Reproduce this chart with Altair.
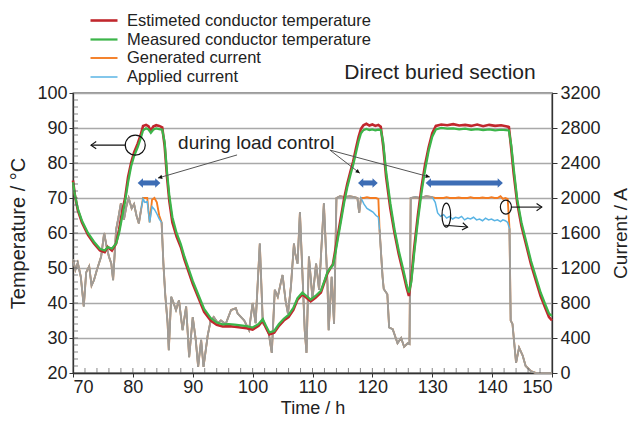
import altair as alt
import pandas as pd

SERIES = ["Estimeted conductor temperature", "Measured conductor temperature",
          "Generated current", "Applied current"]
COLORS = ["#c1272d", "#3cb54a", "#f47b20", "#5ab4e4"]

# ---------------- temperature data (h, °C) ----------------
temp_time = [70.0, 70.3, 70.8, 71.5, 72.5, 73.5, 74.5, 75.3, 75.8, 76.5, 77.2, 77.7, 78.2, 78.7,
             79.2, 79.7, 80.2, 80.8, 81.3, 81.7, 82.2, 82.6, 83.0, 83.4, 83.9, 84.4, 84.9, 85.3,
             85.7, 86.1, 86.6, 87.3, 88.0, 88.6, 89.2, 90.0, 90.9, 91.9, 93.0, 94.0, 95.0, 96.0,
             97.0, 98.0, 99.0, 100.0, 101.0, 101.7, 102.2, 102.8, 103.6, 104.4, 105.2, 106.0,
             106.8, 107.5, 108.3, 109.0, 109.7, 110.5, 111.4, 112.0, 112.5, 113.0, 113.4, 113.8,
             114.2, 114.8, 115.3, 115.8, 116.4, 116.8, 117.3, 117.7, 118.1, 118.5, 119.0, 119.5,
             120.0, 120.5, 121.0, 121.4, 121.8, 122.3, 123.0, 123.7, 124.4, 125.1, 125.7, 126.1,
             126.5, 127.0, 127.6, 128.2, 128.8, 129.4, 130.0, 130.6, 131.5, 132.5, 133.5, 134.5,
             135.5, 136.5, 137.5, 138.5, 139.5, 140.5, 141.5, 142.3, 142.8, 143.2, 143.6, 144.2,
             144.9, 145.7, 146.5, 147.3, 148.1, 148.9, 149.5, 150.0]
est_temp = [75.0, 71.0, 66.5, 63.0, 59.5, 57.0, 55.0, 54.5, 56.0, 55.0, 57.0, 61.0, 66.0, 70.0,
            76.0, 80.0, 83.0, 85.5, 88.0, 90.6, 90.9, 90.5, 89.2, 90.4, 90.8, 90.6, 90.2, 85.0,
            76.0, 69.0, 63.0, 59.0, 56.0, 52.5, 49.5, 45.5, 41.7, 37.5, 35.0, 33.8, 33.3, 33.4,
            33.2, 33.0, 32.8, 32.4, 33.5, 35.0, 33.0, 31.0, 31.5, 33.5, 35.0, 36.0,
            38.0, 41.0, 42.5, 41.5, 40.5, 41.5, 43.0, 46.0, 48.5, 50.0, 51.0, 55.0,
            59.0, 65.0, 70.0, 74.0, 78.0, 80.5, 84.5, 87.5, 89.8, 90.8, 91.2, 90.7,
            91.0, 90.6, 90.9, 90.4, 85.0, 76.0, 67.0, 60.0, 54.0, 49.0, 44.5, 42.0,
            47.0, 56.0, 65.0, 73.0, 79.5, 84.5, 88.5, 90.6, 91.0, 90.8, 91.1, 90.7,
            90.9, 90.6, 91.0, 90.5, 90.9, 90.6, 90.8, 90.5, 90.3, 84.0, 77.0, 68.5,
            62.0, 56.5, 51.0, 46.5, 42.0, 38.5, 36.0, 35.0]
meas_temp = [74.5, 71.0, 67.0, 63.5, 60.0, 57.5, 55.5, 55.0, 56.0, 55.5, 57.0, 60.0, 64.5, 69.0,
             74.5, 79.0, 82.0, 84.5, 87.0, 89.3, 89.9, 89.6, 88.6, 89.5, 89.9, 89.7, 89.5, 86.0,
             77.5, 70.5, 64.5, 60.0, 56.8, 53.3, 50.3, 46.3, 42.5, 38.3, 35.7, 34.4, 33.9, 34.0,
             33.8, 33.6, 33.4, 33.0, 34.0, 35.4, 33.6, 31.6, 32.0, 34.0, 35.5, 36.6,
             38.6, 41.4, 43.0, 42.0, 41.0, 42.0, 43.5, 46.3, 48.8, 50.0, 50.8, 54.0,
             58.0, 63.8, 68.8, 73.0, 77.0, 79.5, 83.2, 86.2, 88.5, 89.4, 89.7, 89.4,
             89.6, 89.3, 89.5, 89.4, 86.0, 77.5, 68.5, 61.0, 55.0, 50.0, 45.5, 43.0,
             46.0, 54.5, 63.5, 71.5, 78.0, 83.5, 87.5, 89.6, 90.0, 89.8, 89.9, 89.6,
             89.8, 89.5, 89.7, 89.4, 89.6, 89.3, 89.5, 89.4, 89.3, 85.0, 78.5, 69.5,
             63.0, 57.5, 52.0, 47.5, 43.0, 39.5, 37.0, 36.3]

# ---------------- current data (h, A) ----------------
cur_time = [70.0, 70.4, 70.8, 71.3, 71.8, 72.2, 72.7, 73.1, 73.5, 74.0, 74.7, 75.2, 75.6, 76.0,
            76.4, 76.7, 77.2, 77.6, 78.0, 78.5, 78.9, 79.3, 79.8, 80.2, 80.6, 81.0, 81.4, 81.7,
            82.0, 82.4, 82.8, 83.2, 83.6, 84.0, 84.4, 84.8, 85.1, 85.4, 85.8, 86.0, 86.4, 86.7,
            87.2, 87.7, 88.3, 88.9, 89.4, 90.0, 90.5, 90.9, 91.4, 91.8, 92.5, 93.0, 93.5, 94.2,
            94.7, 95.5, 96.4, 97.2, 97.5, 98.6, 99.4, 100.0, 100.5, 101.2, 101.7, 102.2, 102.7,
            103.2, 103.7, 104.2, 104.7, 105.0, 105.5, 105.9, 106.4, 106.9, 107.1, 107.5, 107.9,
            108.4, 108.7, 109.0, 109.4, 110.0, 110.6, 111.1, 111.9, 112.5, 112.7, 113.2, 113.6,
            114.0, 114.6, 115.4, 116.2, 117.0, 117.5, 117.8, 118.1, 118.6, 119.1, 119.6, 120.1,
            120.6, 121.0, 121.2, 121.7, 121.9, 122.5, 122.8, 123.4, 124.2, 124.8, 125.3, 125.9,
            126.2, 126.4, 127.2, 128.0, 129.0, 130.0, 130.5, 130.9, 131.4, 131.9, 132.4, 132.9,
            133.4, 133.9, 134.4, 134.9, 135.4, 135.9, 136.4, 136.9, 137.4, 137.9, 138.4, 138.9,
            139.4, 139.9, 140.4, 140.9, 141.4, 141.8, 142.2, 142.6, 142.9, 143.1, 143.4, 144.0,
            144.5, 145.1, 145.6, 146.5, 147.3, 150.0]
gen_cur = [1300, 1180, 1260, 1100, 760, 1150, 1220, 1000, 1060, 1180, 1330, 1600, 1450, 1330,
           1250, 1060, 1640, 1780, 1940, 1750, 1900, 2000, 1880, 1930, 1800, 1710, 1880, 2000,
           2000, 2000, 1720, 1980, 2000, 1950, 1800, 1720, 1250, 900, 570, 260, 870, 820,
           720, 830, 490, 760, 180, 640, 380, 70, 380, 70, 430, 600, 640, 570,
           600, 560, 720, 740, 680, 600, 490, 800, 570, 1480, 570, 530, 450,
           230, 950, 870, 1030, 1120, 830, 680, 990, 1480, 1370, 1250, 1840,
           1000, 490, 230, 1330, 850, 1250, 950, 1940, 1020, 490, 1100, 560,
           2000, 2020, 2010, 2020, 2010, 2000, 1830, 2000, 2000, 2010, 2000, 2000,
           2000, 1990, 1640, 1100, 960, 900, 520, 500, 340, 400, 300, 340,
           330, 2000, 2010, 2000, 2020, 2010, 2000, 2000, 2000, 2000, 2010, 2000,
           2000, 2000, 2005, 2000, 2000, 2000, 2010, 2000, 2000, 2000, 2005, 2000,
           2000, 2010, 2000, 2000, 2020, 1990, 2000, 1990, 1650, 600, 560, 115,
           290, 200, 80, 20, 0, 0]
app_cur = [1300, 1180, 1260, 1100, 760, 1150, 1220, 1000, 1060, 1180, 1330, 1600, 1450, 1330,
           1250, 1060, 1640, 1780, 1940, 1750, 1900, 2000, 1880, 1930, 1800, 1710, 1880, 1990,
           1950, 1960, 1720, 1900, 1870, 1820, 1760, 1720, 1250, 900, 570, 260, 870, 820,
           720, 830, 490, 760, 180, 640, 380, 70, 380, 70, 430, 600, 640, 570,
           600, 560, 720, 740, 680, 600, 490, 800, 570, 1480, 570, 530, 450,
           230, 950, 870, 1030, 1120, 830, 680, 990, 1480, 1370, 1250, 1840,
           1000, 490, 230, 1330, 850, 1250, 950, 1940, 1020, 490, 1100, 560,
           2000, 2020, 2010, 2020, 2010, 2000, 1830, 2000, 1930, 1880, 1860, 1840,
           1800, 1780, 1640, 1100, 960, 900, 520, 500, 340, 400, 300, 340,
           330, 2000, 2010, 2000, 2020, 2010, 1950, 1830, 1790, 1810, 1770, 1790,
           1760, 1780, 1770, 1790, 1750, 1770, 1760, 1780, 1750, 1760, 1740, 1770,
           1750, 1760, 1740, 1750, 1730, 1750, 1740, 1720, 1650, 600, 560, 115,
           290, 200, 80, 20, 0, 0]

x_ticks = list(range(70, 151, 10))
temp_ticks = list(range(20, 101, 10))
cur_ticks = list(range(0, 3201, 400))
x_minor = list(range(72, 150, 2))
temp_minor = list(range(22, 100, 2))

# ---------------- annotations (in data coordinates) ----------------
LOAD_TEXT = "during load control"
load_text_h, load_text_t = 100.6, 85.7
ptr_h1 = [97.4, 112.9, 112.9]
ptr_t1 = [82.3, 83.7, 83.7]
ptr_h2 = [84.2, 117.9, 129.6]
ptr_t2 = [75.7, 77.1, 76.0]
ptr_ang = [163.8, 37.5, 15.1]
dbl_h1 = [80.8, 117.6, 128.9]
dbl_h2 = [84.6, 120.9, 141.8]
dbl_t = 74.3

# ---------------- frames ----------------
temp_df = pd.concat([
    pd.DataFrame({"time": temp_time, "value": est_temp, "series": SERIES[0]}),
    pd.DataFrame({"time": temp_time, "value": meas_temp, "series": SERIES[1]}),
])
cur_df = pd.concat([
    pd.DataFrame({"time": cur_time, "value": gen_cur, "series": SERIES[2]}),
    pd.DataFrame({"time": cur_time, "value": app_cur, "series": SERIES[3]}),
])
cw = pd.DataFrame({"time": cur_time, "gen": gen_cur, "app": app_cur})
cw["eq"] = cw["gen"] == cw["app"]
cw["seg"] = (cw["eq"] != cw["eq"].shift()).cumsum()
grey_df = cw[cw["eq"]].rename(columns={"app": "value"})[["time", "value", "seg"]]

FONT = "Liberation Sans"
xscale = alt.Scale(domain=[70, 150], nice=False, zero=False)
tscale = alt.Scale(domain=[20, 100], nice=False, zero=False)
cscale = alt.Scale(domain=[0, 3200], nice=False, zero=True)

x_axis = alt.Axis(values=x_ticks, title="Time / h", grid=False, tickSize=4, labelPadding=1,
                  titlePadding=3, titleFontSize=18, format="d")
t_axis = alt.Axis(orient="left", values=temp_ticks, title="Temperature / °C", grid=True,
                  gridColor="#a9a9a9", gridWidth=1.5, tickSize=4, labelPadding=2,
                  titlePadding=8, format="d")
c_axis = alt.Axis(orient="right", values=cur_ticks, title="Current / A", grid=False,
                  tickSize=5, labelPadding=3, titlePadding=30, titleFontSize=19,
                  titleAngle=270, format="d")

legend = alt.Legend(title=None, orient="none", legendX=20.5, legendY=-83,
                    symbolType="M-1.5,0L1.5,0", symbolSize=324, labelFontSize=16.5,
                    labelFont=FONT, labelColor="#222", rowPadding=0, labelOffset=12.5,
                    padding=0, labelLimit=400)
color = alt.Color("series:N", scale=alt.Scale(domain=SERIES, range=COLORS), legend=legend)
swidth = alt.StrokeWidth("series:N", scale=alt.Scale(domain=SERIES, range=[2.6, 1.5, 1.8, 1.5]),
                         legend=legend)


def X(field="time"):
    return alt.X(f"{field}:Q", scale=xscale, axis=x_axis)


def TY(field="value"):
    return alt.Y(f"{field}:Q", scale=tscale, axis=t_axis)


# current group
gen_line = alt.Chart(cur_df[cur_df.series == SERIES[2]]).mark_line().encode(
    x=X(), y=alt.Y("value:Q", scale=cscale, axis=c_axis), color=color, strokeWidth=swidth)
app_line = alt.Chart(cur_df[cur_df.series == SERIES[3]]).mark_line().encode(
    x=X(), y=alt.Y("value:Q", scale=cscale, axis=c_axis), color=color, strokeWidth=swidth)
grey_line = alt.Chart(grey_df).mark_line(color="#a39b94", strokeWidth=1.8).encode(
    x=X(), y=alt.Y("value:Q", scale=cscale, axis=c_axis), detail="seg:N")
cur_group = alt.layer(gen_line, app_line, grey_line)

# temperature group
est_line = alt.Chart(temp_df[temp_df.series == SERIES[0]]).mark_line().encode(
    x=X(), y=TY(), color=color, strokeWidth=swidth)
meas_line = alt.Chart(temp_df[temp_df.series == SERIES[1]]).mark_line().encode(
    x=X(), y=TY(), color=color, strokeWidth=swidth)

ytick = alt.Chart(pd.DataFrame({"v": temp_minor})).mark_tick(
    orient="horizontal", size=5, thickness=1, color="#555").encode(y=TY("v"), x=alt.value(2.5))
xtick = alt.Chart(pd.DataFrame({"v": x_minor})).mark_tick(
    orient="vertical", size=5, thickness=1, color="#555").encode(x=X("v"), y=alt.value(277.5))

ptr_df = pd.DataFrame({"h1": ptr_h1, "t1": ptr_t1, "h2": ptr_h2, "t2": ptr_t2, "ang": ptr_ang})
ptr_lines = alt.Chart(ptr_df).mark_rule(color="#555", strokeWidth=1).encode(
    x=X("h1"), y=TY("t1"), x2="h2:Q", y2="t2:Q")
ptr_heads = alt.Chart(ptr_df).mark_point(
    shape="M0,0 L-1,-0.5 L-1,0.5 Z", filled=True, color="#111", size=70, opacity=1).encode(
    x=X("h2"), y=TY("t2"), angle=alt.Angle("ang:Q", scale=None))

dbl_df = pd.DataFrame({"h1": dbl_h1, "h2": dbl_h2, "t": dbl_t})
dbl_df["s1"] = dbl_df["h1"] + 0.6
dbl_df["s2"] = dbl_df["h2"] - 0.6
dbl_shaft = alt.Chart(dbl_df).mark_rule(color="#3d6db5", strokeWidth=5).encode(
    x=X("s1"), x2="s2:Q", y=TY("t"))
heads_df = pd.DataFrame({"h": dbl_h1 + dbl_h2, "t": dbl_t,
                         "ang": [180] * len(dbl_h1) + [0] * len(dbl_h2)})
dbl_heads = alt.Chart(heads_df).mark_point(
    shape="M0,0 L-1,-0.9 L-1,0.9 Z", filled=True, color="#3d6db5", size=110, opacity=1).encode(
    x=X("h"), y=TY("t"), angle=alt.Angle("ang:Q", scale=None))

load_text = alt.Chart(pd.DataFrame({"h": [load_text_h], "t": [load_text_t], "label": [LOAD_TEXT]})
                      ).mark_text(font=FONT, fontSize=19, color="#222", baseline="middle").encode(
    x=X("h"), y=TY("t"), text="label:N")

# circle / ellipse markers with arrows
mk_df = pd.DataFrame({"h": [80.4], "t": [85.1]})
circ = alt.Chart(mk_df).mark_point(shape="circle", filled=False, color="#111", size=400,
                                   strokeWidth=1.2, opacity=1).encode(x=X("h"), y=TY("t"))
el1 = alt.Chart(pd.DataFrame({"h": [132.35], "t": [65.1]})).mark_point(
    shape="M0,-1 A0.36,1 0 1,1 0,1 A0.36,1 0 1,1 0,-1 Z", filled=False, color="#111",
    size=576, strokeWidth=1.2, opacity=1).encode(x=X("h"), y=TY("t"))
el2 = alt.Chart(pd.DataFrame({"h": [142.3], "t": [67.4]})).mark_point(
    shape="M0,-1 A0.79,1 0 1,1 0,1 A0.79,1 0 1,1 0,-1 Z", filled=False, color="#111",
    size=196, strokeWidth=1.2, opacity=1).encode(x=X("h"), y=TY("t"))
arr_df = pd.DataFrame({"h1": [78.7, 132.1, 143.2], "t1": [85.1, 62.2, 67.4],
                       "h2": [73.0, 135.9, 148.3], "t2": [85.1, 61.7, 67.4],
                       "ang": [180, 7, 0]})
arr_lines = alt.Chart(arr_df).mark_rule(color="#111", strokeWidth=1.1).encode(
    x=X("h1"), y=TY("t1"), x2="h2:Q", y2="t2:Q")
arr_heads = alt.Chart(arr_df).mark_point(
    shape="M-1,-0.7 L0,0 L-1,0.7", filled=False, color="#111", size=110, strokeWidth=1.1,
    opacity=1).encode(x=X("h2"), y=TY("t2"), angle=alt.Angle("ang:Q", scale=None))

title_txt = alt.Chart(pd.DataFrame({"label": ["Direct buried section"]})).mark_text(
    font=FONT, fontSize=21, color="#222", baseline="middle", align="center").encode(
    text="label:N", x=alt.value(367), y=alt.value(-20))

temp_group = alt.layer(est_line, meas_line, ytick, xtick, ptr_lines, ptr_heads, dbl_shaft,
                       dbl_heads, load_text, circ, el1, el2, arr_lines, arr_heads, title_txt)

chart = alt.layer(cur_group, temp_group).resolve_scale(y="independent").properties(
    width=479, height=280,
    autosize=alt.AutoSizeParams(type="none"),
    padding={"left": 65, "top": 85, "right": 80, "bottom": 46},
).configure_axis(
    labelFont=FONT, titleFont=FONT, labelFontSize=18, titleFontSize=20,
    titleFontWeight="normal", labelColor="#222", titleColor="#222",
    domainColor="#333", tickColor="#333", domainWidth=1.3,
).configure_view(stroke="#333", strokeWidth=1.3)

chart.save("out.html", embed_options={"renderer": "svg", "actions": False})
